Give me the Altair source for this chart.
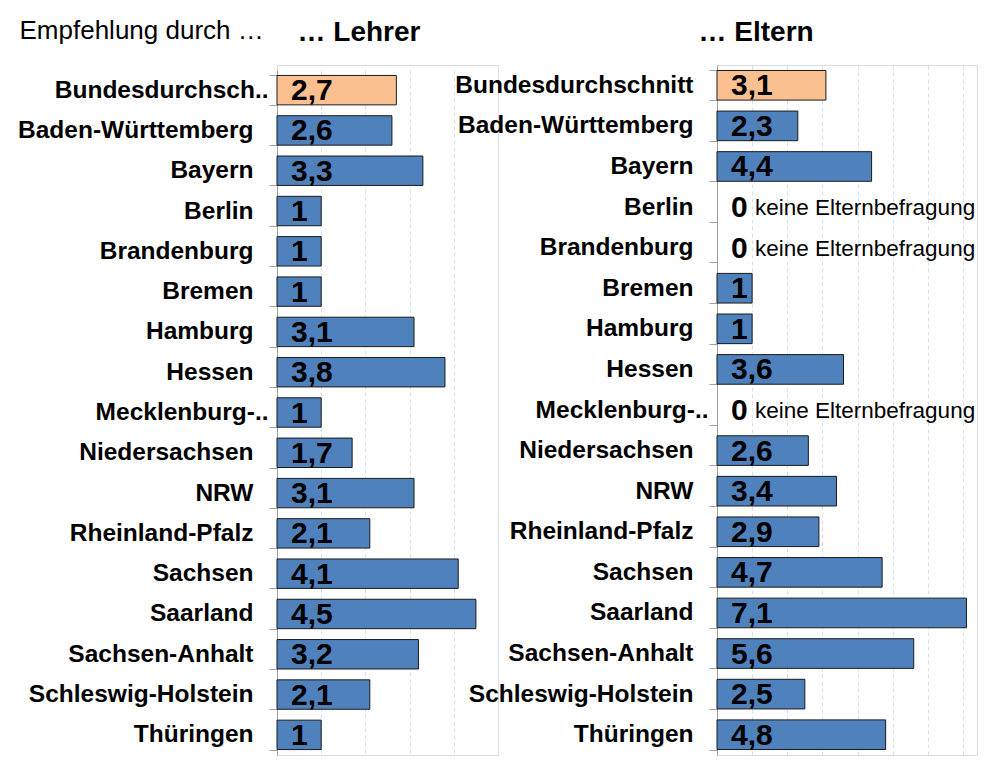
import altair as alt
import pandas as pd

# ---------------- data ----------------
states = ["Bundesdurchschnitt", "Baden-Württemberg", "Bayern", "Berlin", "Brandenburg",
          "Bremen", "Hamburg", "Hessen", "Mecklenburg-Vorpommern", "Niedersachsen", "NRW",
          "Rheinland-Pfalz", "Sachsen", "Saarland", "Sachsen-Anhalt", "Schleswig-Holstein",
          "Thüringen"]
lehrer = [2.7, 2.6, 3.3, 1, 1, 1, 3.1, 3.8, 1, 1.7, 3.1, 2.1, 4.1, 4.5, 3.2, 2.1, 1]
eltern = [3.1, 2.3, 4.4, 0, 0, 1, 1, 3.6, 0, 2.6, 3.4, 2.9, 4.7, 7.1, 5.6, 2.5, 4.8]
highlight = "Bundesdurchschnitt"
note_text = "keine Elternbefragung"
main_title = "Empfehlung durch …"
title_left = "… Lehrer"
title_right = "… Eltern"
left_short = {"Bundesdurchschnitt": "Bundesdurchsch..", "Mecklenburg-Vorpommern": "Mecklenburg-.."}
right_short = {"Mecklenburg-Vorpommern": "Mecklenburg-.."}

df = pd.DataFrame({"state": states, "lehrer": lehrer, "eltern": eltern})

FONT = "Liberation Sans"
BLUE = "#4F81BD"
ORANGE = "#FAC08F"
AXIS_GRAY = "#A0A0A0"
GRID = "#D5E0EE"
H = 690


def label_expr(short):
    expr = "datum.value"
    for k, v in short.items():
        expr = f"datum.value == '{k}' ? '{v}' : ({expr})"
    return expr


def pad_cond(short):
    test = " || ".join(f"datum.value == '{k}'" for k in short)
    return {"condition": {"test": test, "value": 1}, "value": 16}


def panel(field, short, xmax, width, grid_vals, yrange, ptitle, ptitle_dx, left_title=None):
    yaxis = dict(
        labelExpr=label_expr(short), labelFont=FONT, labelFontSize=24.5,
        labelFontWeight="bold", labelColor="black", labelPadding=pad_cond(short),
        labelLimit=400,
        tickBand="extent", tickSize=8, tickColor=AXIS_GRAY, domainColor=AXIS_GRAY,
        grid=False,
    )
    if left_title:
        yaxis.update(title=left_title, titleAngle=0, titleAlign="left",
                     titleBaseline="alphabetic", titleX=-258, titleY=-27,
                     titleFont=FONT, titleFontSize=26, titleFontWeight="normal",
                     titleColor="black", titleLimit=400)
    else:
        yaxis.update(title=None)
    yscale = alt.Scale(domain=states, range=yrange, paddingInner=0.27, paddingOuter=0.135)
    y = alt.Y("state:N", sort=states, scale=yscale, axis=alt.Axis(**yaxis))
    xaxis = alt.Axis(orient="top", labels=False, ticks=False, domain=False, grid=True,
                     values=grid_vals, gridColor=GRID, gridDash=[4, 3], gridWidth=1,
                     title=ptitle, titleAngle=0, titleAlign="left",
                     titleBaseline="alphabetic", titleX=ptitle_dx, titleY=-25,
                     titleFont=FONT, titleFontSize=28, titleFontWeight="bold",
                     titleColor="black", titleLimit=400)
    x = alt.X(f"{field}:Q", scale=alt.Scale(domain=[0, xmax], nice=False, zero=True),
              axis=xaxis)
    base = alt.Chart(df).transform_calculate(
        lab=f"replace(format(datum.{field}, '.1~f'), '.', ',')"
    )
    bars = base.transform_filter(f"datum.{field} > 0").mark_bar(
        stroke="#1a1a1a", strokeWidth=1
    ).encode(
        x=x, y=y,
        color=alt.condition(alt.datum.state == highlight, alt.value(ORANGE), alt.value(BLUE)),
    )
    text = base.mark_text(
        align="left", baseline="middle", dx=14, dy=1, font=FONT, fontSize=30,
        fontWeight="bold", color="black"
    ).encode(x=alt.datum(0), y=alt.Y("state:N", sort=states), text="lab:N")
    layers = [bars, text]
    if field == "eltern":
        note = base.transform_filter(f"datum.{field} == 0").mark_text(
            align="left", baseline="middle", dx=38, dy=1, font=FONT, fontSize=22.5,
            color="black"
        ).encode(x=alt.datum(0), y=alt.Y("state:N", sort=states), text=alt.value(note_text))
        layers.append(note)
    return alt.layer(*layers).properties(width=width, height=H)


left = panel("lehrer", left_short, 5, 221, [1, 2, 3, 4, 5], [5, H], title_left, 20,
             left_title=main_title)
right = panel("eltern", right_short, 7.4, 260, [1, 2, 3, 4, 5, 6, 7], [0, H], title_right, -19)

chart = alt.hconcat(left, right, spacing=219, bounds="flush").properties(
    padding={"left": 9, "top": 8, "right": 0, "bottom": 0}
).configure_view(stroke=None).configure(background="white")

chart.save("out.html", embed_options={"renderer": "svg", "actions": False})
